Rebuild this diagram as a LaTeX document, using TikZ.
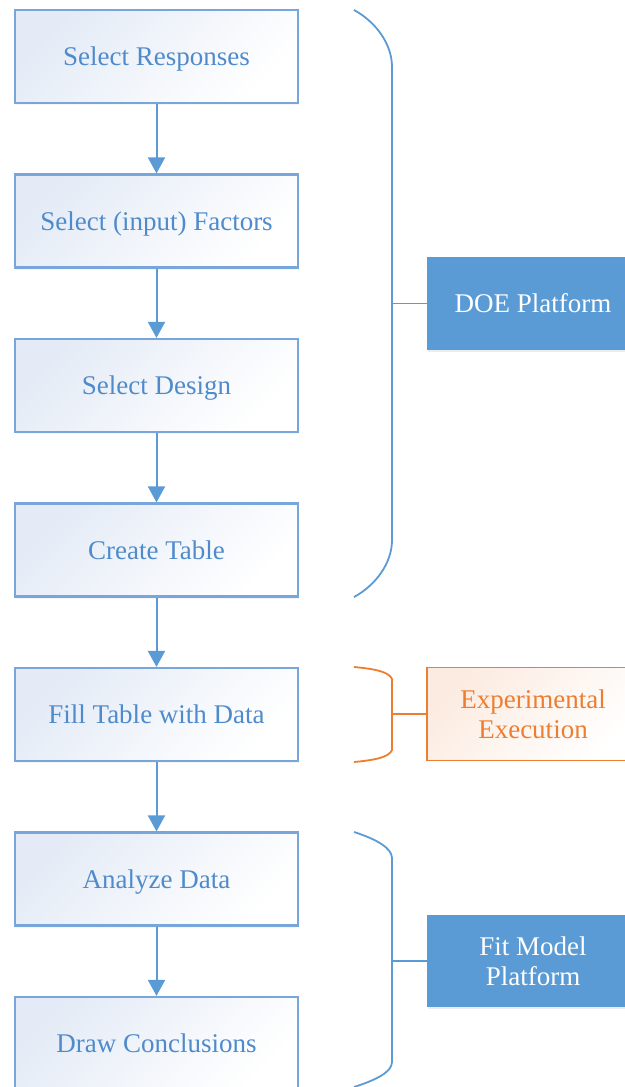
\documentclass[tikz,border=0pt]{standalone}
\usepackage{fontspec}
\setmainfont{Liberation Serif}
\usetikzlibrary{arrows.meta,shadows}
\definecolor{doeblue}{HTML}{5B9BD5}
\definecolor{boxline}{HTML}{78A5DA}
\definecolor{boxtext}{HTML}{4F8BCB}
\definecolor{boxtint}{HTML}{E4EBF6}
\definecolor{exporange}{HTML}{ED7D31}
\definecolor{exptint}{HTML}{FCEBE0}
\tikzset{
  stepbox/.style={draw=boxline, line width=2.2pt, top color=boxtint, bottom color=white,
    shading angle=45, minimum width=283pt, minimum height=93pt, text=boxtext,
    font=\fontsize{27}{30}\selectfont, align=center, inner sep=0pt, text depth=0pt,
    drop shadow={opacity=0.08, shadow xshift=1pt, shadow yshift=-2pt}},
  platbox/.style={draw=none, fill=doeblue, minimum width=212pt, text=white,
    font=\fontsize{27}{30}\selectfont, align=center, inner sep=0pt,
    drop shadow={opacity=0.15, shadow xshift=1pt, shadow yshift=-2pt}},
  expbox/.style={draw=exporange, line width=1.8pt, top color=exptint, bottom color=white,
    shading angle=45, minimum width=212pt, text=exporange,
    font=\fontsize{27}{30}\selectfont, align=center, inner sep=0pt},
  flow/.style={draw=doeblue, line width=2pt, -{Triangle[length=16pt,width=17pt]}},
  bluebrace/.style={draw=doeblue, line width=1.8pt},
  orangebrace/.style={draw=exporange, line width=1.8pt}
}
\begin{document}
\begin{tikzpicture}[x=1pt, y=-1pt]
\useasboundingbox (0,0) rectangle (624,1087);

% main sequence of steps
\node[stepbox] (s1) at (156.5,56.5)  {Select Responses};
\node[stepbox] (s2) at (156.5,221)   {Select (input) Factors};
\node[stepbox] (s3) at (156.5,385.5) {Select Design};
\node[stepbox] (s4) at (156.5,550)   {Create Table};
\node[stepbox] (s5) at (156.5,714.5) {Fill Table with Data};
\node[stepbox] (s6) at (156.5,879)   {Analyze Data};
\node[stepbox] (s7) at (156.5,1043.5){Draw Conclusions};

\foreach \a/\b in {s1/s2,s2/s3,s3/s4,s4/s5,s5/s6,s6/s7}
  \draw[flow] (\a.south) -- (\b.north);

% platform labels
\node[platbox, minimum height=93pt] (doe) at (533,303.5) {DOE Platform};
\node[expbox, minimum height=93pt] (exp) at (533,714) {Experimental\\Execution};
\node[platbox, minimum height=92pt] (fit) at (533,961) {Fit Model\\Platform};

% brace tips
\coordinate (doetip) at (392,303.5);
\coordinate (exptip) at (392,714);
\coordinate (fittip) at (392,961);

% DOE brace
\draw[bluebrace] (354,10) .. controls (376,22) and (392,44) .. (392,67)
  -- (392,540) .. controls (392,563) and (376,585) .. (354,597);
\draw[bluebrace] (doetip) -- (doe.west);

% experimental execution brace
\draw[orangebrace] (354,667) .. controls (376,669) and (389,672) .. (392,679)
  -- (392,750) .. controls (389,757) and (376,760) .. (354,762);
\draw[orangebrace] (exptip) -- (exp.west);

% fit model brace
\draw[bluebrace] (354,832) .. controls (376,839) and (392,848) .. (392,858)
  -- (392,1062) .. controls (392,1072) and (376,1080) .. (354,1087);
\draw[bluebrace] (fittip) -- (fit.west);
\end{tikzpicture}
\end{document}
